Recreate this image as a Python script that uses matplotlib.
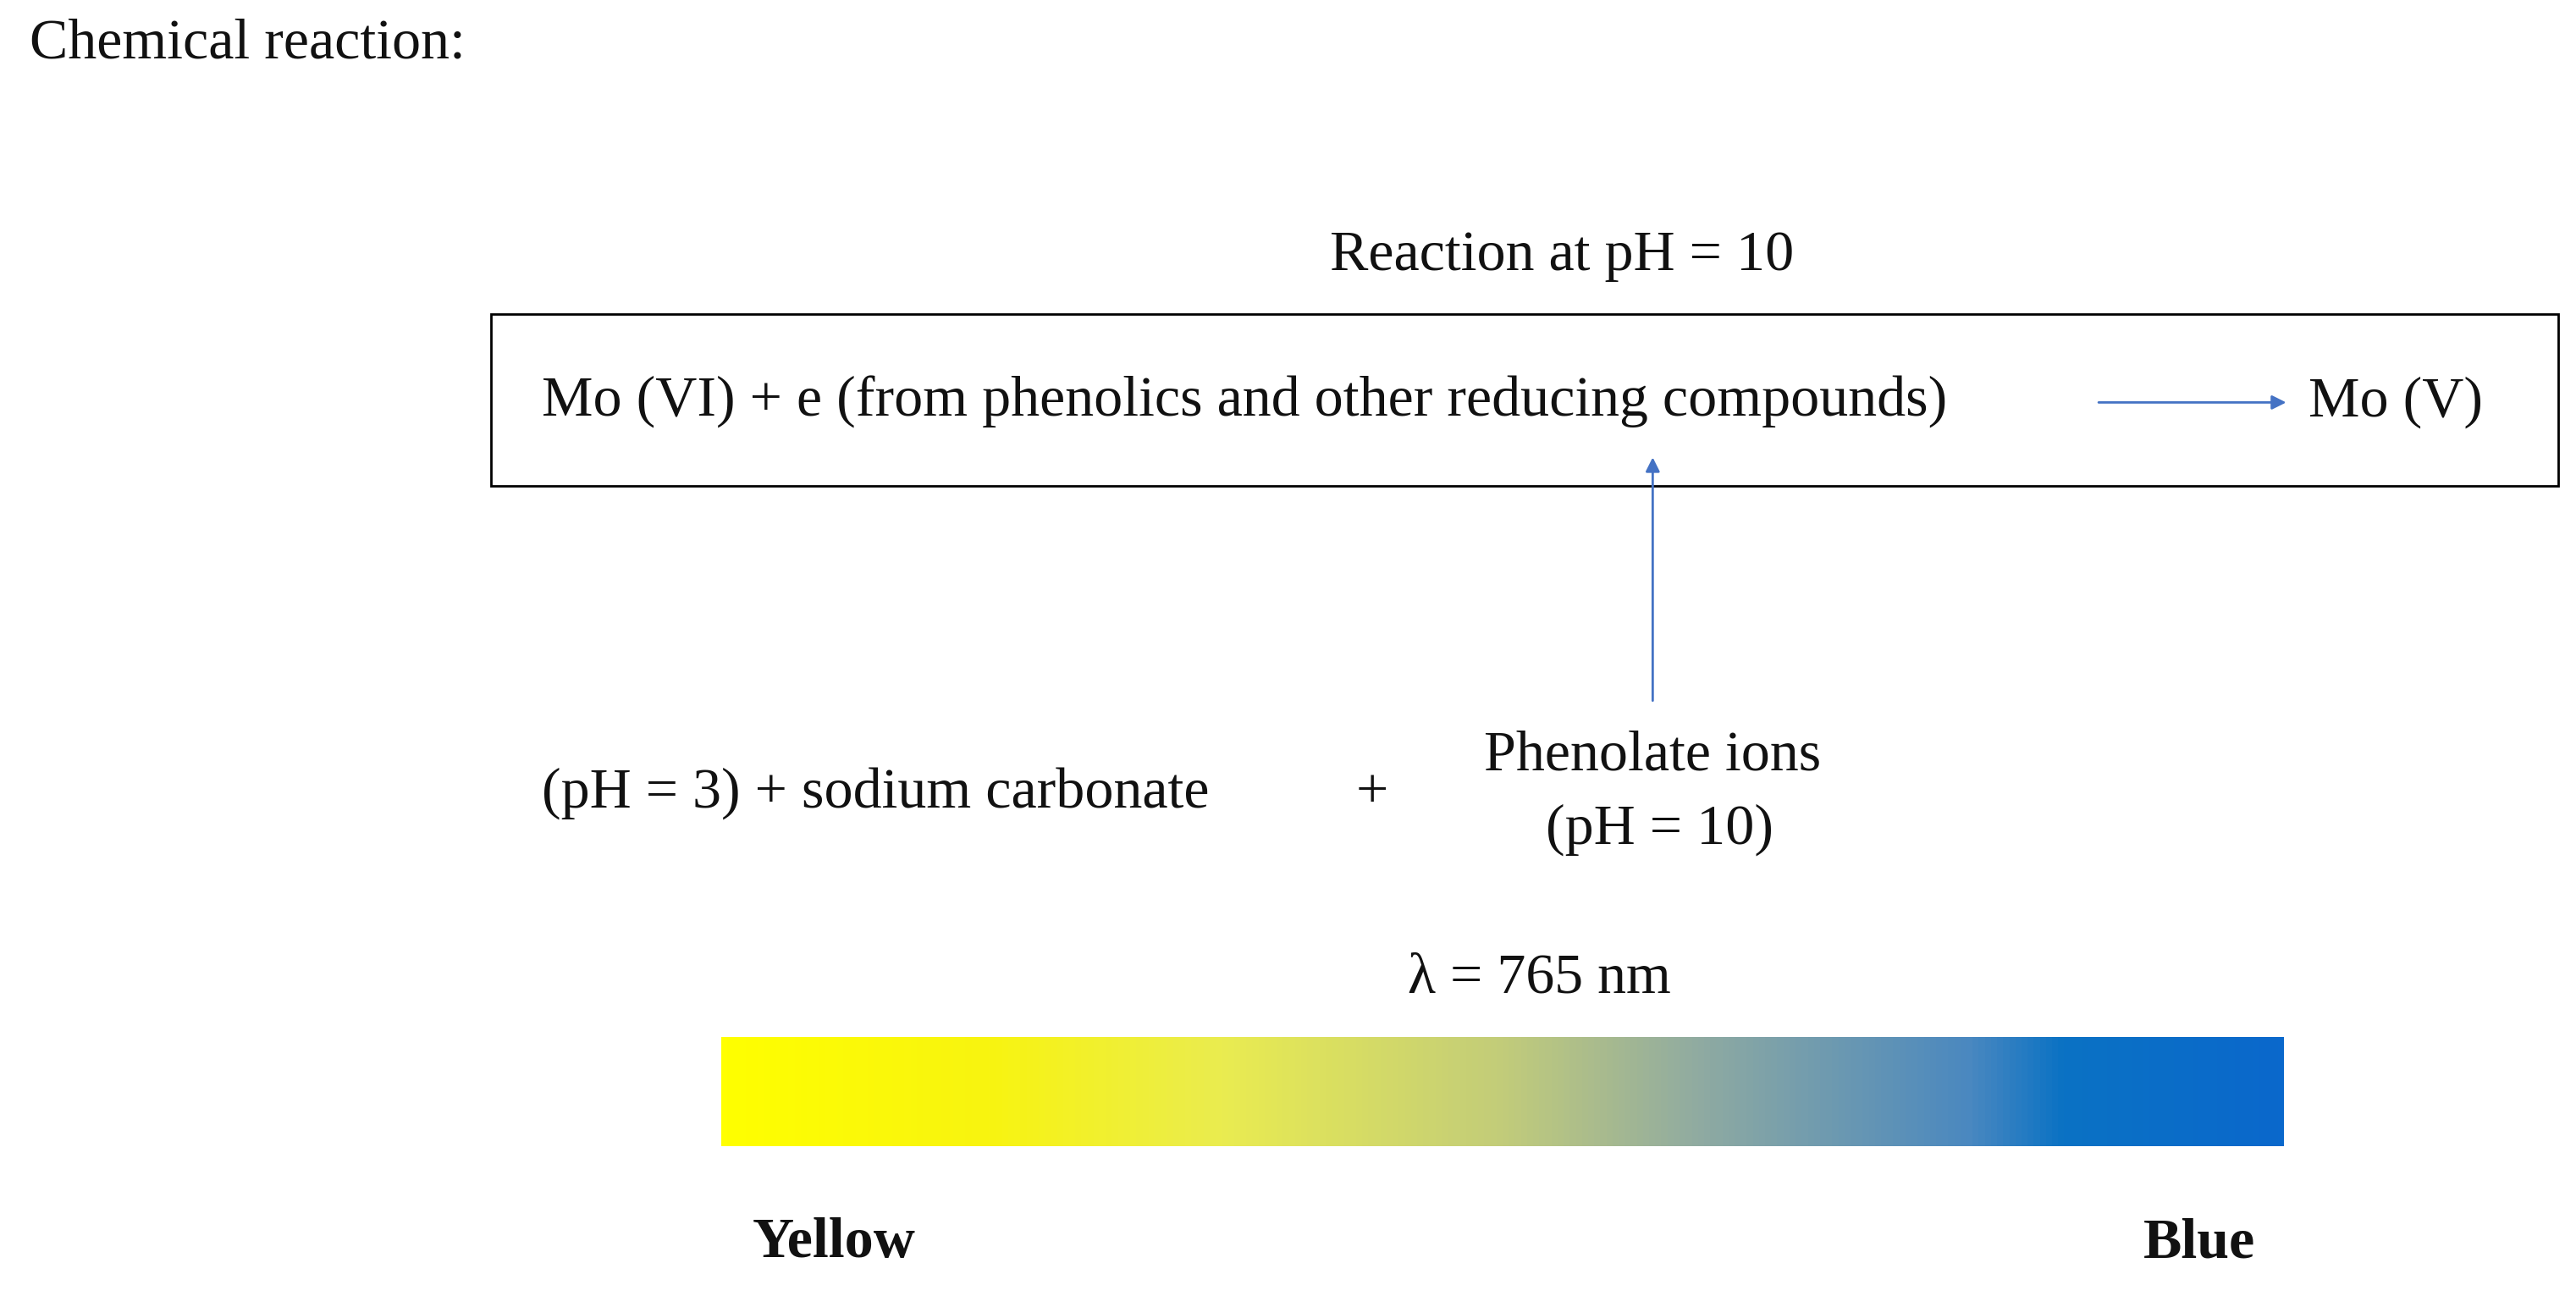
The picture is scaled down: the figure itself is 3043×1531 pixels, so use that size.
import matplotlib
matplotlib.use("Agg")
import matplotlib.pyplot as plt
import numpy as np
from matplotlib.colors import LinearSegmentedColormap

title_text = "Chemical reaction:"
header = "Reaction at pH = 10"
reaction_left = "Mo (VI) + e (from phenolics and other reducing compounds)"
reaction_right = "Mo (V)"
bottom_left = "(pH = 3) + sodium carbonate"
phenolate = ["Phenolate ions", "(pH = 10)"]
wavelength = "\u03bb = 765 nm"
grad_stops = [0.0, 0.17, 0.32, 0.5, 0.62, 0.8, 0.86, 1.0]
grad_colors = ["#FFFF00", "#F8F410", "#EAEC50", "#C2CC7A", "#92ACA0", "#4A88C0", "#0A72C4", "#0A68CC"]
end_labels = ["Yellow", "Blue"]

W, H = 1568, 789
fig = plt.figure(figsize=(30.43, 15.31), dpi=100)
ax = fig.add_axes([0, 0, 1, 1])
ax.set_xlim(0, W); ax.set_ylim(H, 0); ax.axis("off")
fs = 49
serif = ["Liberation Serif", "DejaVu Serif"]
kw = dict(family=serif, fontsize=fs, color="#111111")
arrowc = "#4472C4"

ax.text(18, 27, title_text, va="center", ha="left", **kw)
ax.text(951, 156, header, va="center", ha="center", **kw)
ax.add_patch(plt.Rectangle((299, 191), 1258, 105, fill=False, ec="black", lw=2))
ax.text(330, 245, reaction_left, va="center", ha="left", **kw)
ax.annotate("", xy=(1393, 245), xytext=(1276, 245),
            arrowprops=dict(arrowstyle="-|>", color=arrowc, lw=2, mutation_scale=25))
ax.text(1405, 245, reaction_right, va="center", ha="left", **kw)
ax.annotate("", xy=(1006, 277), xytext=(1006, 428),
            arrowprops=dict(arrowstyle="-|>", color=arrowc, lw=2, mutation_scale=25))
ax.text(330, 483, bottom_left, va="center", ha="left", **kw)
ax.text(835, 483, "+", va="center", ha="center", **kw)
ax.text(1006, 460, phenolate[0], va="center", ha="center", **kw)
ax.text(1010, 505, phenolate[1], va="center", ha="center", **kw)
ax.text(937, 596, wavelength, va="center", ha="center", **kw)

cmap = LinearSegmentedColormap.from_list("g", list(zip(grad_stops, grad_colors)))
grad = np.linspace(0, 1, 512)[None, :]
ax.imshow(grad, cmap=cmap, aspect="auto", extent=(439, 1390, 698, 632), zorder=1)
ax.set_xlim(0, W); ax.set_ylim(H, 0)

ax.text(458, 757, end_labels[0], va="center", ha="left", fontweight="bold", **kw)
ax.text(1373, 757, end_labels[1], va="center", ha="right", fontweight="bold", **kw)

fig.savefig("out.png", dpi=100, facecolor="white")
